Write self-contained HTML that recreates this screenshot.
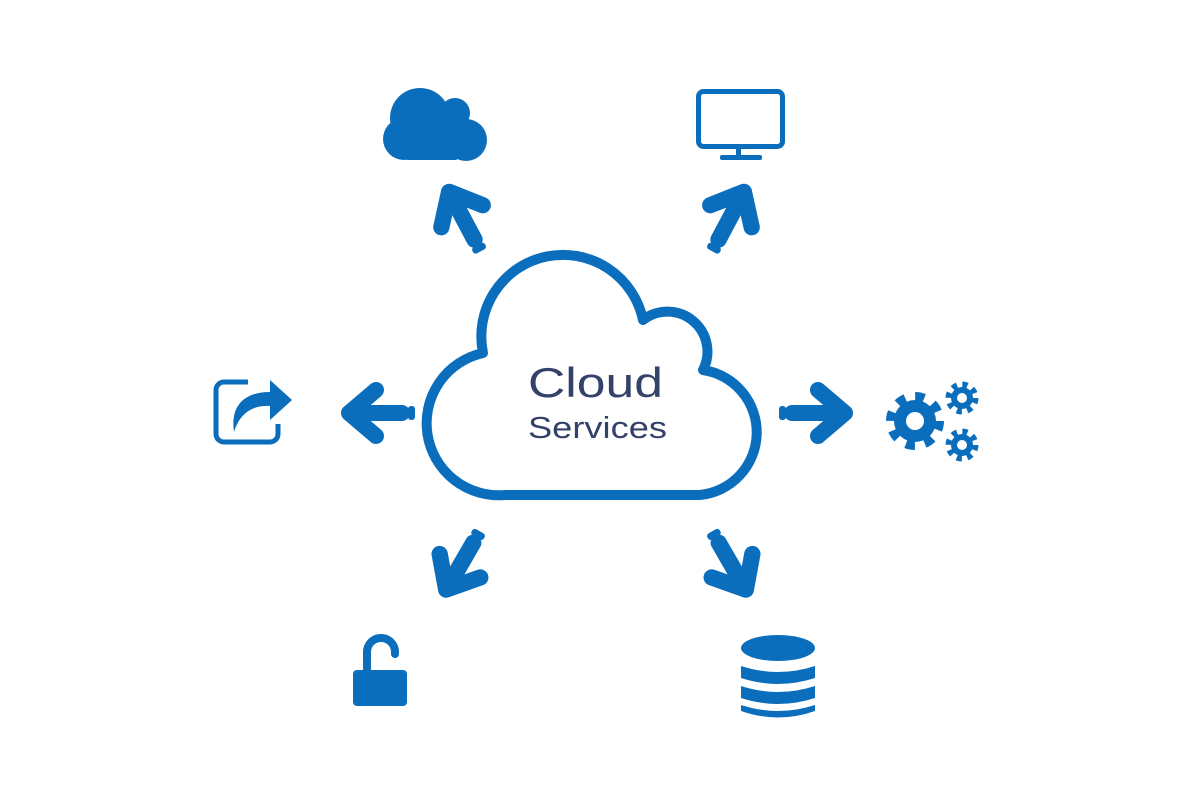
<!DOCTYPE html>
<html><head><meta charset="utf-8"><style>
html,body{margin:0;padding:0;background:#fff;}
svg{display:block}
</style></head><body>
<svg width="1200" height="800" viewBox="0 0 1200 800" xmlns="http://www.w3.org/2000/svg">
<defs>
<g id="arr">
  <rect x="-37" y="-7" width="7" height="14" rx="3" fill="#0b6ebd"/>
  <line x1="-24" y1="0" x2="28" y2="0" stroke="#0b6ebd" stroke-width="16" stroke-linecap="round"/>
  <polyline points="2,-23 29,0 2,23" fill="none" stroke="#0b6ebd" stroke-width="16" stroke-linecap="round" stroke-linejoin="round"/>
</g>
</defs>
<!-- main cloud -->
<path d="M505,495 A72,72 0 0 1 483,353 A81,81 0 0 1 643,320 A40,40 0 0 1 703,370 A63,63 0 0 1 700,495 Z" fill="#fff" stroke="#0b6ebd" stroke-width="10" stroke-linejoin="round"/>
<text x="528" y="397" textLength="135" lengthAdjust="spacingAndGlyphs" font-family="Liberation Sans, sans-serif" font-size="42" fill="#34426a">Cloud</text>
<text x="528" y="438" textLength="139" lengthAdjust="spacingAndGlyphs" font-family="Liberation Sans, sans-serif" font-size="31" fill="#34426a">Services</text>

<!-- arrows -->
<use href="#arr" transform="translate(378,413) rotate(180)"/>
<use href="#arr" transform="translate(816,413)"/>
<use href="#arr" transform="translate(463,218) rotate(-118) scale(1.02)"/>
<use href="#arr" transform="translate(730,218) rotate(-62) scale(1.02)"/>
<use href="#arr" transform="translate(461,564) rotate(120) scale(1.02)"/>
<use href="#arr" transform="translate(731,564) rotate(60) scale(1.02)"/>

<!-- filled cloud icon -->
<g fill="#0b6ebd">
  <circle cx="420" cy="118" r="30"/>
  <circle cx="455" cy="113" r="15"/>
  <circle cx="404" cy="139" r="21"/>
  <circle cx="466" cy="140" r="21"/>
  <rect x="404" y="110" width="55" height="50" rx="4"/>
</g>

<!-- monitor -->
<rect x="698.5" y="91.5" width="84" height="55" rx="5" fill="none" stroke="#0b6ebd" stroke-width="5"/>
<rect x="736" y="148" width="5" height="10" fill="#0b6ebd"/>
<rect x="720" y="155" width="42" height="5" rx="2" fill="#0b6ebd"/>

<!-- share icon -->
<path d="M248,382 H224 A8,8 0 0 0 216,390 V434 A8,8 0 0 0 224,442 H270 A8,8 0 0 0 278,434 V424" fill="none" stroke="#0b6ebd" stroke-width="5"/>
<path d="M234,432 C230,405 245,392 270,392 V380 L292,400 L270,420 V406 C254,405 240,412 234,432 Z" fill="#0b6ebd"/>

<!-- gears -->
<g>
  <circle cx="915" cy="421" r="21" fill="#0b6ebd"/>
  <circle cx="915" cy="421" r="24" fill="none" stroke="#0b6ebd" stroke-width="10" stroke-dasharray="9 9.85"/>
  <circle cx="915" cy="421" r="9" fill="#fff"/>
  <circle cx="962" cy="398" r="11" fill="#0b6ebd"/>
  <circle cx="962" cy="398" r="13" fill="none" stroke="#0b6ebd" stroke-width="7" stroke-dasharray="5 5.2"/>
  <circle cx="962" cy="398" r="5" fill="#fff"/>
  <circle cx="962" cy="445" r="11" fill="#0b6ebd"/>
  <circle cx="962" cy="445" r="13" fill="none" stroke="#0b6ebd" stroke-width="7" stroke-dasharray="5 5.2"/>
  <circle cx="962" cy="445" r="5" fill="#fff"/>
</g>

<!-- lock -->
<path d="M367,672 V652 A14,14 0 0 1 395,652 V654" fill="none" stroke="#0b6ebd" stroke-width="8" stroke-linecap="round"/>
<rect x="353" y="670" width="54" height="36" rx="4" fill="#0b6ebd"/>

<!-- database -->
<g fill="#0b6ebd">
  <ellipse cx="778" cy="648" rx="37" ry="13"/>
  <path d="M741,666 Q778,678 815,666 V678 Q778,690 741,678 Z"/>
  <path d="M741,686 Q778,698 815,686 V698 Q778,710 741,698 Z"/>
  <path d="M741,705 Q778,717 815,705 V711 Q778,724 741,711 Z"/>
</g>
</svg>
</body></html>
